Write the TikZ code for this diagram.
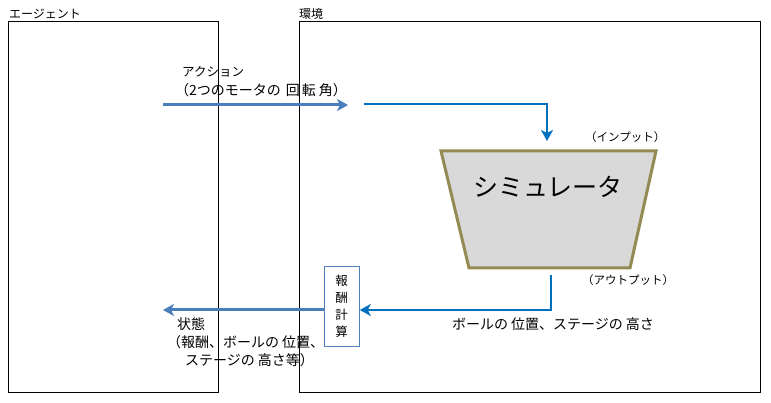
\documentclass[tikz,border=0pt]{standalone}
\usepackage{fontspec}
\setmainfont{Noto Sans CJK JP}
\usetikzlibrary{arrows.meta}
\definecolor{arrowA}{HTML}{4A7EBB}
\definecolor{arrowB}{HTML}{0070C0}
\definecolor{simfill}{HTML}{D9D9D9}
\definecolor{simedge}{HTML}{948A54}
\definecolor{rewedge}{HTML}{4F81BD}
\newcommand{\gp}{\hspace{3pt}}
\tikzset{
  frame/.style={draw=black, line width=1pt},
  lbl/.style={font=\fontsize{11.5}{14}\selectfont, inner sep=0pt, anchor=west},
  mlbl/.style={font=\fontsize{14}{16}\selectfont, inner sep=0pt, anchor=west},
  flowA/.style={draw=arrowA, line width=3pt, -{Stealth[length=11pt,width=12pt,inset=3pt]}},
  flowB/.style={draw=arrowB, line width=2.5pt, -{Stealth[length=11pt,width=12pt,inset=3pt]}},
}
\begin{document}
\begin{tikzpicture}[x=1pt,y=-1pt]
\useasboundingbox (0,0) rectangle (771,403);
% frames
\node[frame, minimum width=210pt, minimum height=371pt, anchor=north west, inner sep=0pt] (agent) at (8,21) {};
\node[frame, minimum width=461pt, minimum height=371pt, anchor=north west, inner sep=0pt] (env) at (299,21) {};
\node[lbl, font=\fontsize{12}{14}\selectfont] (agentlbl) at (9,14) {エージェント};
\node[lbl, font=\fontsize{12}{14}\selectfont] (envlbl) at (299,14) {環境};
% simulator trapezoid
\coordinate (s1) at (441,151);
\coordinate (s2) at (656,151);
\coordinate (s3) at (630,268);
\coordinate (s4) at (469,268);
\draw[fill=simfill, draw=simedge, line width=3pt] (s1) -- (s2) -- (s3) -- (s4) -- cycle;
\node[font=\fontsize{25}{30}\selectfont, inner sep=0pt] (sim) at (548,187) {シミュレータ};
\node[lbl] (inp) at (585,137) {（インプット）};
\node[lbl] (outp) at (582,280) {（アウトプット）};
% action arrow
\coordinate (a0) at (163,105);
\coordinate (a1) at (348,105);
\draw[flowA] (a0) -- (a1);
\node[mlbl, font=\fontsize{12.5}{15}\selectfont] (act1) at (182,72) {アクション};
\node[mlbl] (act2) at (175,90) {（2つのモータの\hspace{5pt}回\hspace{2pt}転\hspace{3pt}角）};
% input arrow
\coordinate (b0) at (364,104);
\coordinate (b1) at (547,104);
\coordinate (b2) at (547,141);
\draw[flowB] (b0) -- (b1) -- (b2);
% reward box
\node[draw=rewedge, line width=0.8pt, minimum width=35pt, minimum height=80pt, anchor=north west, inner sep=0pt] (rew) at (324,266) {};
\node[font=\fontsize{12.5}{17}\selectfont, align=center, inner sep=0pt] (rewtxt) at (341.5,306) {報\\酬\\計\\算};
% output arrow
\coordinate (c0) at (551,275);
\coordinate (c1) at (551,310);
\draw[flowB] (c0) -- (c1) -- (rew.east |- c1);
\node[mlbl] (outtxt) at (452,324) {ボールの\gp 位置、ステージの\gp 高さ};
% state arrow
\coordinate (d1) at (163,310);
\draw[flowA] (rew.west |- c1) -- (d1);
\node[mlbl] (st1) at (177,324) {状態};
\node[mlbl] (st2) at (167,342) {（報酬、ボールの\gp 位置、};
\node[mlbl] (st3) at (185,360) {ステージの\gp 高さ等）};
\end{tikzpicture}
\end{document}
